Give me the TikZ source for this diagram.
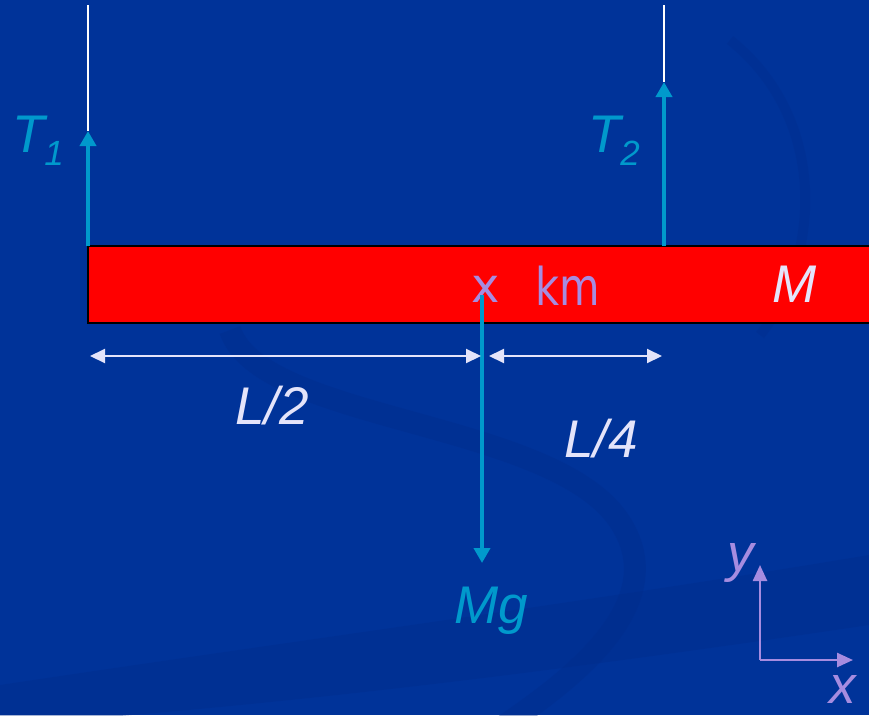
\documentclass[tikz,border=0pt]{standalone}
\usepackage{fontspec}
\setmainfont{Liberation Sans}
\newfontfamily\handfont[FakeStretch=0.8]{DejaVu Sans}
\newfontfamily\crossfont{DejaVu Sans}
\usetikzlibrary{arrows.meta}

\definecolor{slideblue}{RGB}{0,51,153}
\definecolor{shadeblue}{RGB}{0,44,138}
\definecolor{forceblue}{RGB}{0,153,204}
\definecolor{lavender}{RGB}{166,140,224}
\definecolor{dimwhite}{RGB}{228,228,250}

\newcommand{\bigit}{\fontsize{53}{60}\selectfont\itshape}
\newcommand{\subit}[1]{\raisebox{-13pt}{\fontsize{35}{40}\selectfont\itshape #1}}

\begin{document}
\begin{tikzpicture}[x=1pt,y=-1pt,
    force/.style={draw=forceblue, line width=4pt, -{Triangle[length=15pt,width=16pt]}},
    rope/.style={draw=white, line width=2pt},
    dimline/.style={draw=dimwhite, line width=2pt, {Triangle[length=15pt,width=14pt]}-{Triangle[length=15pt,width=14pt]}},
    axis/.style={draw=lavender, line width=2.5pt, -{Triangle[length=16pt,width=14pt]}},
    label/.style={font=\bigit, inner sep=0pt, anchor=base}]

    % background and faint swooshes
    \fill[slideblue] (0,0) rectangle (869,715);
    \useasboundingbox (0,0) rectangle (869,715);
    \begin{scope}
        \clip (0,0) rectangle (869,715);
        \fill[shadeblue, opacity=0.35] (0,685) .. controls (300,640) and (600,600) .. (869,555)
            -- (869,625) .. controls (600,665) and (300,705) .. (0,725) -- cycle;
        \draw[shadeblue, opacity=0.35, line width=22pt] (230,330) .. controls (260,420) and (540,420) .. (615,515)
            .. controls (680,600) and (570,680) .. (505,725);
        \draw[shadeblue, opacity=0.3, line width=10pt] (730,40) .. controls (830,120) and (820,260) .. (760,335);
    \end{scope}

    % the bar
    \filldraw[fill=red, draw=black, line width=2.5pt] (88,246) rectangle (885,323);
    \node[label, text=dimwhite] (mass) at (795,302) {M};

    % ropes and tensions
    \coordinate (rope1top) at (88,5);
    \coordinate (rope1end) at (88,131);
    \coordinate (bar1) at (88,246);
    \coordinate (rope2top) at (664,5);
    \coordinate (rope2end) at (664,82);
    \coordinate (bar2) at (664,246);
    \draw[rope] (rope1top) -- (rope1end);
    \draw[rope] (rope2top) -- (rope2end);
    \draw[force] (bar1) -- (rope1end);
    \draw[force] (bar2) -- (rope2end);
    \node[label, text=forceblue] (T1) at (38,152) {T\subit{1}};
    \node[label, text=forceblue] (T2) at (614,152) {T\subit{2}};

    % centre of mass and weight
    \node[text=lavender, font=\crossfont\fontsize{48}{52}\selectfont, inner sep=0pt] (cm) at (486,289) {x};
    \node[text=lavender, font=\handfont\fontsize{52}{56}\selectfont, inner sep=0pt, anchor=base] (km) at (568,305) {km};
    \coordinate (cmtop) at (482,295);
    \coordinate (mgend) at (482,563);
    \draw[force] (cmtop) -- (mgend);
    \node[label, text=forceblue] (Mg) at (491,623) {Mg};

    % distances
    \coordinate (leftend) at (90,356);
    \coordinate (midleft) at (481,356);
    \coordinate (midright) at (489,356);
    \coordinate (rightend) at (662,356);
    \draw[dimline] (leftend) -- (midleft);
    \draw[dimline] (midright) -- (rightend);
    \node[label, text=dimwhite] (half) at (272,424) {L/2};
    \node[label, text=dimwhite] (quarter) at (601,457) {L/4};

    % axes
    \coordinate (origin) at (760,660);
    \coordinate (ytip) at (760,565);
    \coordinate (xtip) at (853,660);
    \draw[axis] (origin) -- (ytip);
    \draw[axis] (origin) -- (xtip);
    \node[label, text=lavender] (ylab) at (741,571) {y};
    \node[label, text=lavender] (xlab) at (843,703) {x};
\end{tikzpicture}
\end{document}
